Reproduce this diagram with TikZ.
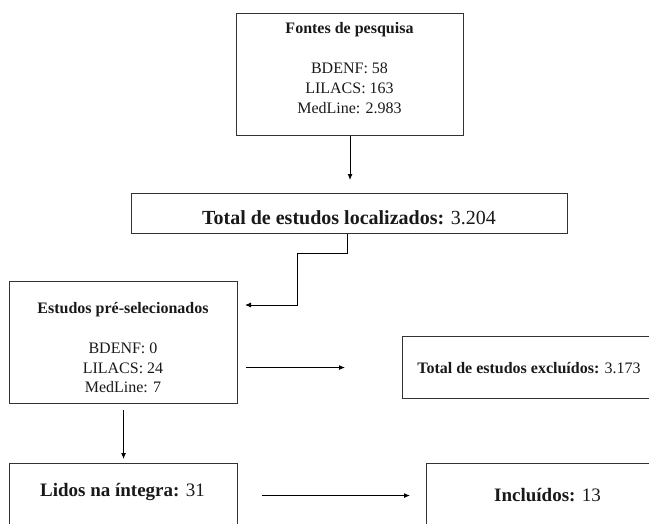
\documentclass[tikz,border=0pt]{standalone}
\usepackage{fontspec}
\setmainfont{Liberation Serif}
\usetikzlibrary{arrows.meta}
\tikzset{
  box/.style={draw=black!80, line width=1.1pt, rectangle, inner sep=0pt, anchor=north west},
  txt/.style={anchor=base, inner sep=0pt, text=black!90},
  fs/.style={font=\fontsize{16}{20}\selectfont},
  fm/.style={font=\fontsize{19}{23}\selectfont},
  fl/.style={font=\fontsize{20}{24}\selectfont},
  arr/.style={draw=black, line width=0.9pt, -{Latex[length=6pt,width=5pt]}}
}
\begin{document}
\begin{tikzpicture}[x=1pt,y=-1pt]
\useasboundingbox (0,0) rectangle (649,523);
\clip (0,0) rectangle (649,523);
% boxes
\node[box, minimum width=227pt, minimum height=122pt] (fontes) at (236,13) {};
\node[box, minimum width=436pt, minimum height=40pt] (loc) at (131,193) {};
\node[box, minimum width=228pt, minimum height=122pt] (pre) at (9,281) {};
\node[box, minimum width=254pt, minimum height=62pt] (excl) at (402,336) {};
\node[box, minimum width=228pt, minimum height=64pt] (lid) at (9,463) {};
\node[box, minimum width=243pt, minimum height=64pt] (inc) at (426,463) {};
% texts
\node[txt, fs] (t1a) at (349.5,33) {\textbf{Fontes de pesquisa}};
\node[txt, fs] (t1b) at (349.5,73) {BDENF: 58};
\node[txt, fs] (t1c) at (349.5,93) {LILACS: 163};
\node[txt, fs] (t1d) at (349.5,113) {MedLine: 2.983};
\node[txt, fl] (t2) at (349,224) {\textbf{Total de estudos localizados:} 3.204};
\node[txt, fs] (t3a) at (123,313) {\textbf{Estudos pré-selecionados}};
\node[txt, fs] (t3b) at (123,353) {BDENF: 0};
\node[txt, fs] (t3c) at (123,373) {LILACS: 24};
\node[txt, fs] (t3d) at (123,392) {MedLine: 7};
\node[txt, fs] (t4) at (529,373) {\textbf{Total de estudos excluídos:} 3.173};
\node[txt, fm] (t5) at (122.5,496) {\textbf{Lidos na íntegra:} 31};
\node[txt, fm] (t6) at (547.5,501) {\textbf{Incluídos:} 13};
% connectors
\coordinate (k1) at (297,253);
\coordinate (k2) at (245,305);
\draw[arr, shorten >=13pt] (fontes.south) -- (fontes.south |- loc.north);
\draw[arr] ([xshift=-2pt]loc.south) |- (k1) |- (k2);
\draw[arr, shorten <=8pt, shorten >=57pt] (pre.east |- excl.west) -- (excl.west);
\draw[arr, shorten <=6pt, shorten >=4pt] (pre.south) -- (pre.south |- lid.north);
\draw[arr, shorten <=24pt, shorten >=16pt] (lid.east) -- (inc.west);
\end{tikzpicture}
\end{document}
